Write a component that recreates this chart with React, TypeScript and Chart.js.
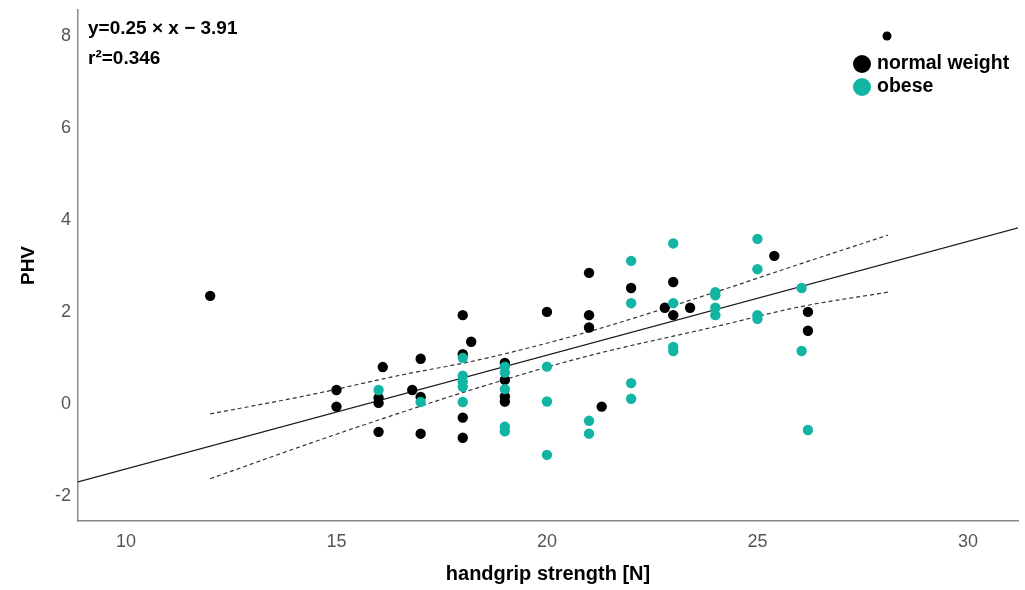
import React, { useEffect, useRef } from "react";
import { Chart, registerables } from "chart.js";

Chart.register(...registerables);

// ---- data ----
const normalX = [12, 15, 15, 16.1, 16, 16, 16, 16.8, 17, 17, 17, 18, 18.2, 18, 18, 18, 19, 19, 19, 19, 20, 21, 21, 21, 21.3, 22, 22.8, 23, 23, 23.4, 25.4, 26.2, 26.2];
const normalY = [2.35, 0.3, -0.06, 0.8, 0.13, 0.02, -0.61, 0.3, 0.98, 0.15, -0.65, 1.93, 1.35, 1.08, -0.3, -0.74, 0.89, 0.52, 0.16, 0.05, 2.0, 2.85, 1.93, 1.66, -0.06, 2.52, 2.09, 2.65, 1.93, 2.09, 3.22, 2.0, 1.59];

const obeseX = [16, 17, 18, 18, 18, 18, 18, 19, 19, 19, 19, 19, 20, 20, 20, 21, 21, 22, 22, 22, 22, 23, 23, 23, 23, 24, 24, 24, 24, 25, 25, 25, 25, 26.05, 26.05, 26.2];
const obeseY = [0.3, 0.04, 1.0, 0.61, 0.48, 0.37, 0.04, 0.81, 0.68, 0.32, -0.5, -0.6, 0.81, 0.05, -1.11, -0.37, -0.65, 3.11, 2.19, 0.45, 0.11, 3.49, 2.19, 1.24, 1.15, 2.43, 2.36, 2.09, 1.93, 3.59, 2.93, 1.93, 1.85, 2.52, 1.15, -0.57];

const fitX = [8.86, 31.2];
const fitY = [-1.7, 3.83];

const bandX = [12, 14.4, 16.5, 18.4, 20.8, 24.1, 26.0, 28.1];
const bandUpper = [-0.22, 0.2, 0.62, 0.96, 1.52, 2.46, 3.04, 3.67];
const bandLower = [-1.63, -0.85, -0.2, 0.36, 1.0, 1.7, 2.11, 2.43];

const xTicks = [10, 15, 20, 25, 30];
const yTicks = [-2, 0, 2, 4, 6, 8];

const equationText = "y=0.25 × x − 3.91";
const r2Text = "r²=0.346";
const legendLabels = ["normal weight", "obese"];

const BLACK = "#000000";
const TEAL = "#12b5a3";

const zip = (xs: number[], ys: number[]) => xs.map((x, i) => ({ x, y: ys[i] }));

export default function App() {
  const ref = useRef<HTMLCanvasElement | null>(null);

  useEffect(() => {
    document.body.style.margin = "0";
    const canvas = ref.current;
    if (!canvas) return;

    const overlay = {
      id: "overlay",
      afterDraw(chart: any) {
        const ctx = chart.ctx;
        ctx.save();
        ctx.fillStyle = "#000";
        ctx.textBaseline = "middle";
        ctx.textAlign = "left";
        ctx.font = 'bold 19px "Liberation Sans", Arial, sans-serif';
        ctx.fillText(equationText, 88, 29);
        ctx.fillText(r2Text, 88, 59);

        // legend
        ctx.beginPath();
        ctx.arc(887, 36, 4.5, 0, Math.PI * 2);
        ctx.fill();
        ctx.beginPath();
        ctx.arc(862, 64, 9, 0, Math.PI * 2);
        ctx.fillStyle = BLACK;
        ctx.fill();
        ctx.beginPath();
        ctx.arc(862, 87, 9, 0, Math.PI * 2);
        ctx.fillStyle = TEAL;
        ctx.fill();
        ctx.fillStyle = "#000";
        ctx.font = 'bold 19.5px "Liberation Sans", Arial, sans-serif';
        ctx.fillText(legendLabels[0], 877, 64);
        ctx.fillText(legendLabels[1], 877, 87);
        ctx.restore();
      },
    };

    const chart = new Chart(canvas, {
      type: "scatter",
      data: {
        datasets: [
          {
            label: legendLabels[1],
            data: zip(obeseX, obeseY),
            backgroundColor: TEAL,
            borderColor: TEAL,
            pointRadius: 5.2,
            pointBorderWidth: 0,
            order: 0,
          },
          {
            label: legendLabels[0],
            data: zip(normalX, normalY),
            backgroundColor: BLACK,
            borderColor: BLACK,
            pointRadius: 5.2,
            pointBorderWidth: 0,
            order: 1,
          },
          {
            type: "line",
            label: "fit",
            data: zip(fitX, fitY),
            borderColor: "#1a1a1a",
            borderWidth: 1.3,
            pointRadius: 0,
            showLine: true,
            order: 2,
          } as any,
          {
            type: "line",
            label: "upper",
            data: zip(bandX, bandUpper),
            borderColor: "#333",
            borderWidth: 1.2,
            borderDash: [4, 3],
            pointRadius: 0,
            showLine: true,
            cubicInterpolationMode: "monotone",
            order: 3,
          } as any,
          {
            type: "line",
            label: "lower",
            data: zip(bandX, bandLower),
            borderColor: "#333",
            borderWidth: 1.2,
            borderDash: [4, 3],
            pointRadius: 0,
            showLine: true,
            cubicInterpolationMode: "monotone",
            order: 4,
          } as any,
        ],
      },
      options: {
        responsive: false,
        animation: false,
        layout: { padding: { left: 0, top: 10, right: 7, bottom: 0 } },
        plugins: { legend: { display: false }, tooltip: { enabled: false } },
        scales: {
          x: {
            type: "linear",
            min: 8.86,
            max: 31.19,
            afterBuildTicks: (s: any) => {
              s.ticks = xTicks.map((v) => ({ value: v }));
            },
            afterFit: (s: any) => {
              s.height = 69;
              s.paddingLeft = 0;
              s.paddingRight = 0;
            },
            grid: { display: false, drawTicks: false, tickLength: 0 },
            border: { display: true, color: "#8a8a8a", width: 1.5 },
            ticks: {
              padding: 10,
              color: "#555",
              font: { family: '"Liberation Sans", Arial', size: 18 },
              maxRotation: 0,
            },
            title: {
              display: true,
              text: "handgrip strength [N]",
              color: "#000",
              font: { family: '"Liberation Sans", Arial', size: 20, weight: "bold" },
              padding: { top: 0, bottom: 4 },
            },
          },
          y: {
            type: "linear",
            min: -2.55,
            max: 8.57,
            afterBuildTicks: (s: any) => {
              s.ticks = yTicks.map((v) => ({ value: v }));
            },
            afterFit: (s: any) => {
              s.width = 78;
              s.paddingTop = 0;
              s.paddingBottom = 0;
            },
            grid: { display: false, drawTicks: false, tickLength: 0 },
            border: { display: true, color: "#8a8a8a", width: 1.5 },
            ticks: {
              padding: 7,
              color: "#555",
              font: { family: '"Liberation Sans", Arial', size: 18 },
            },
            title: {
              display: true,
              text: "PHV",
              color: "#000",
              font: { family: '"Liberation Sans", Arial', size: 19, weight: "bold" },
              padding: { top: 17, bottom: 0 },
            },
          },
        },
      },
      plugins: [overlay],
    });

    return () => chart.destroy();
  }, []);

  return (
    <div style={{ width: 1025, height: 590 }}>
      <canvas ref={ref} width={1025} height={590} />
    </div>
  );
}
